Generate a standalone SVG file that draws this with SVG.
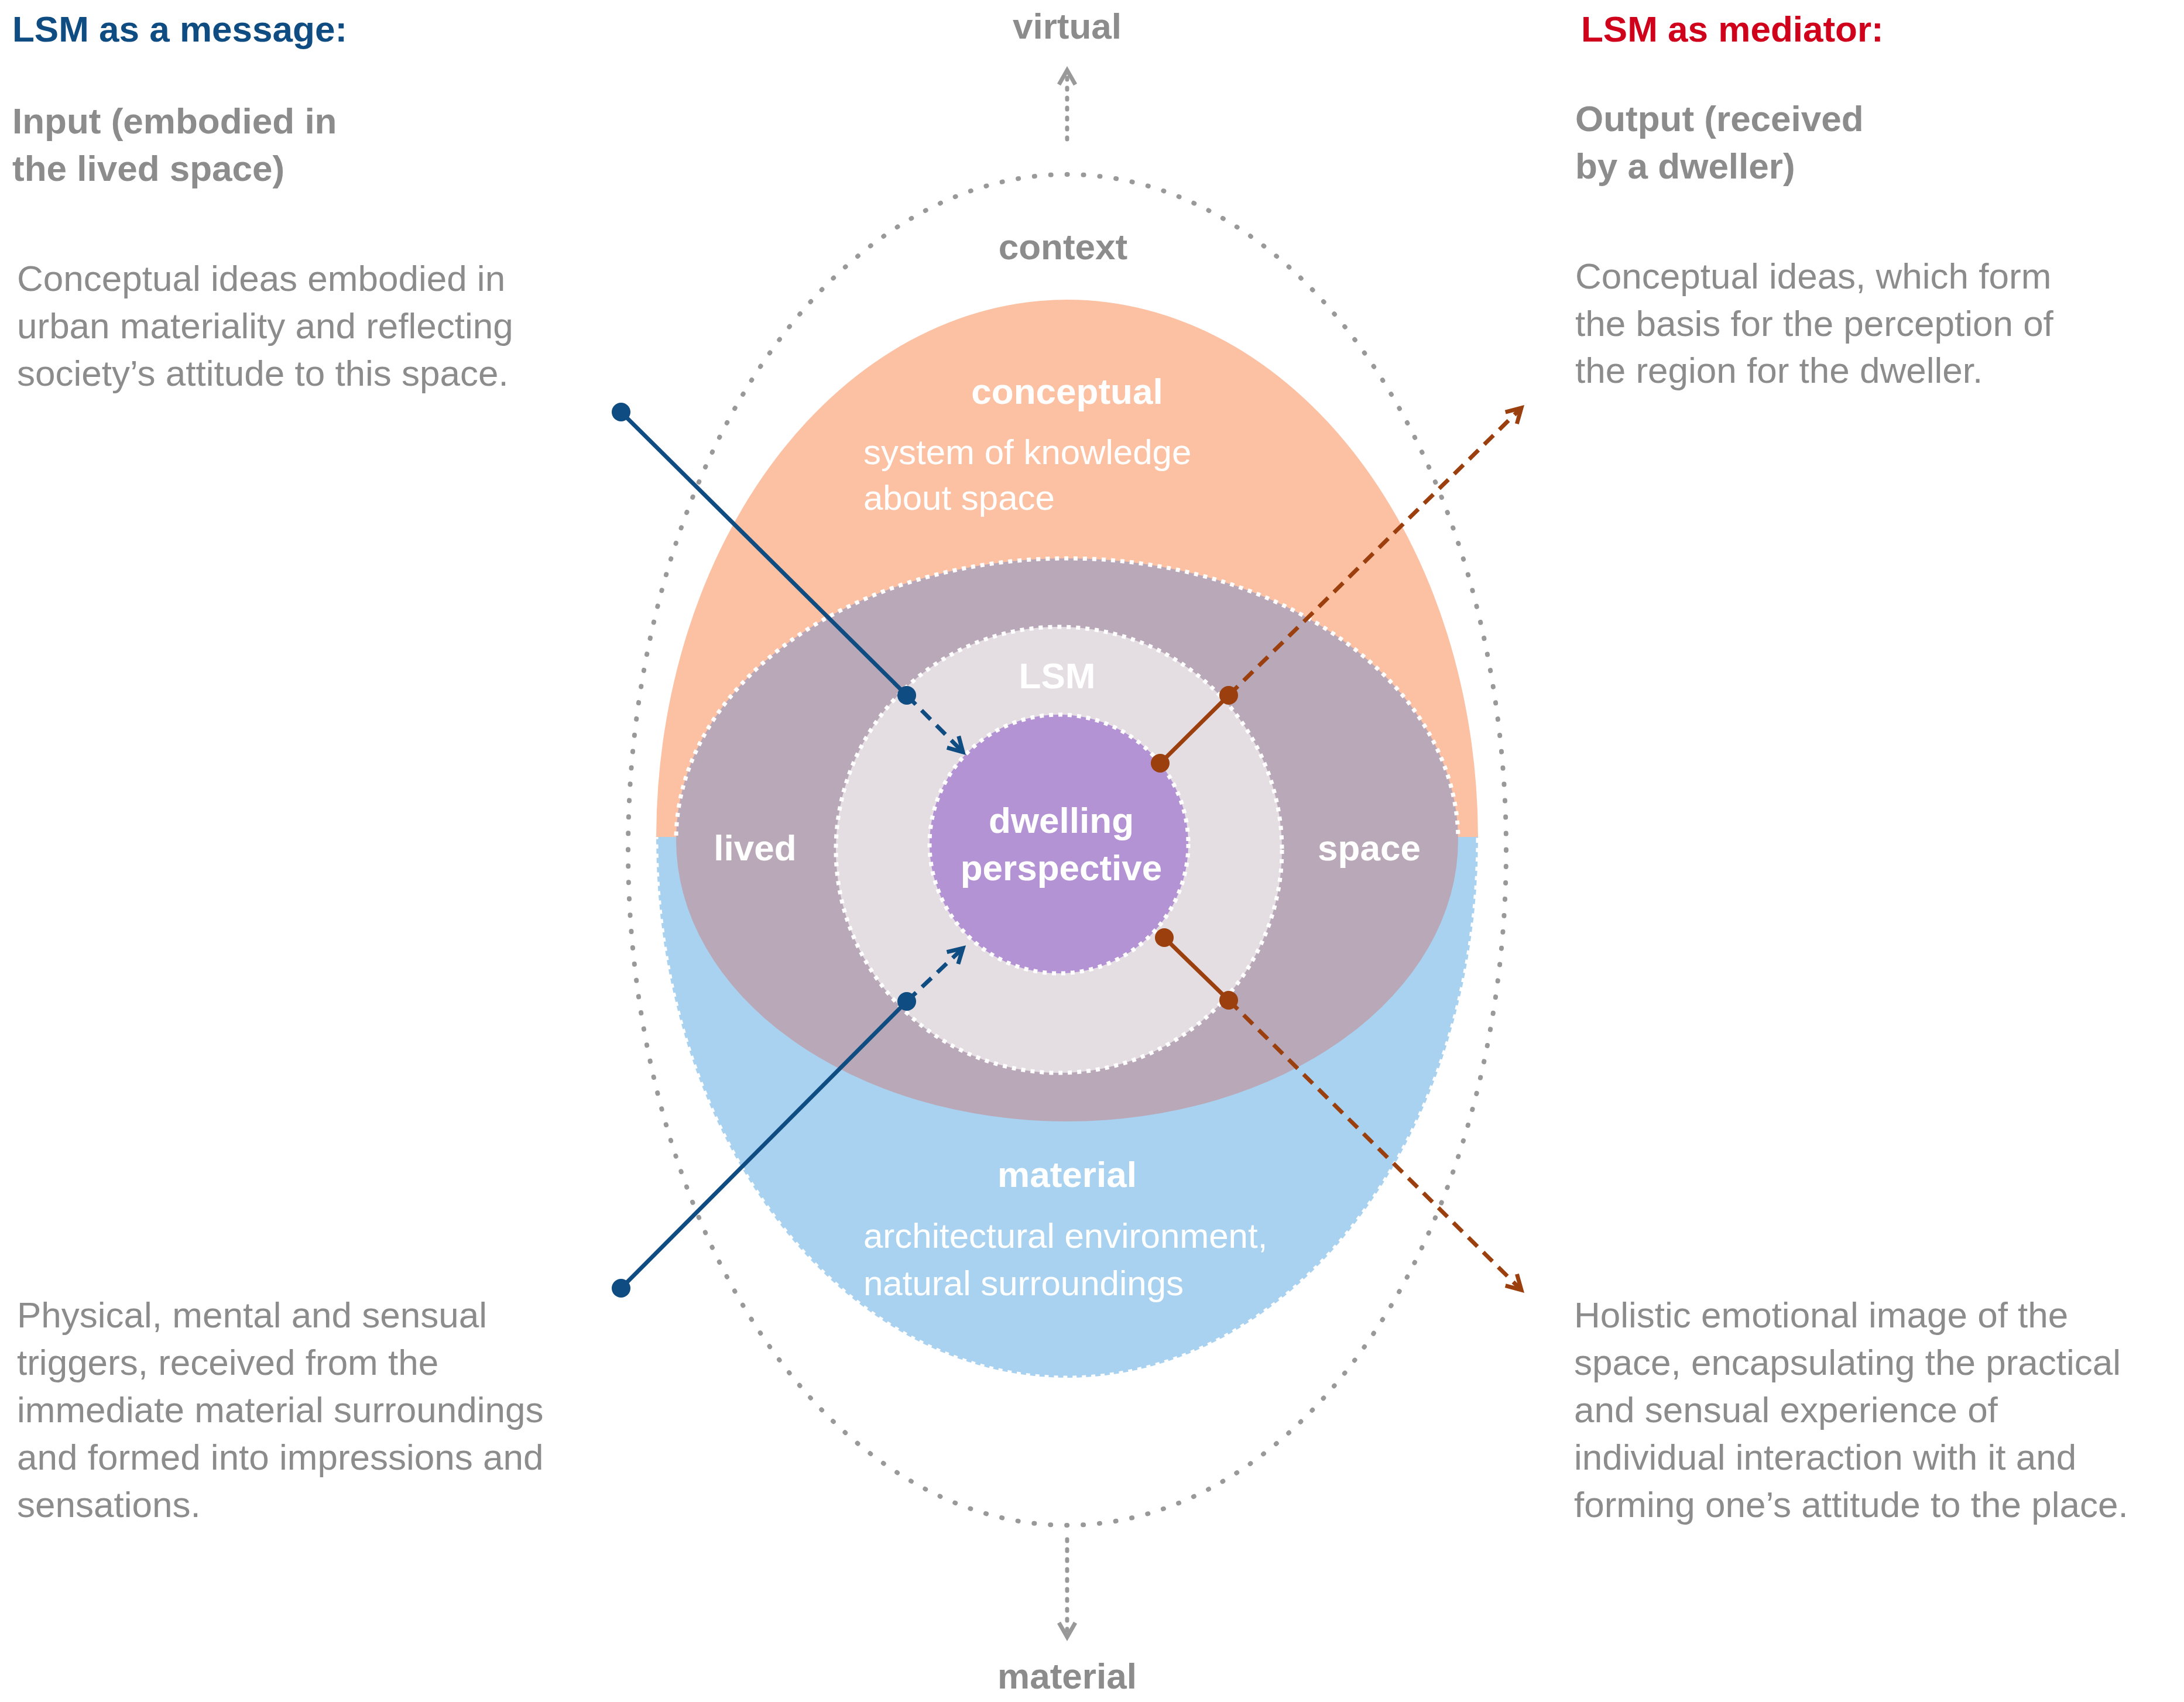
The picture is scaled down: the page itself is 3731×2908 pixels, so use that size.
<svg xmlns="http://www.w3.org/2000/svg" width="3731" height="2908" viewBox="0 0 3731 2908">
<defs>
<style>
text{font-family:"Liberation Sans",Arial,sans-serif}
.h{font-weight:bold;font-size:62px;fill:#8c8c8c}
.p{font-size:62px;fill:#8c8c8c}
.w{font-weight:bold;font-size:62px;fill:#fff}
.wn{font-size:60px;fill:#fff}
.wd{fill:none;stroke:#fff;stroke-width:7;stroke-dasharray:7 9}
.bl{stroke:#0f4c81;stroke-width:7;fill:none}
.br{stroke:#9b3f0e;stroke-width:7;fill:none}
.gax{stroke:#999;stroke-width:7;fill:none;stroke-dasharray:3 14;stroke-linecap:round}
</style>
<marker id="ab" viewBox="0 0 10 10" refX="8" refY="5" markerWidth="5" markerHeight="5" orient="auto"><path d="M1,1 L8,5 L1,9" fill="none" stroke="#0f4c81" stroke-width="2"/></marker>
<marker id="ar" viewBox="0 0 10 10" refX="8" refY="5" markerWidth="5" markerHeight="5" orient="auto"><path d="M1,1 L8,5 L1,9" fill="none" stroke="#9b3f0e" stroke-width="2"/></marker>
<marker id="ag" viewBox="0 0 10 10" refX="8" refY="5" markerWidth="5" markerHeight="5" orient="auto"><path d="M1,1 L8,5 L1,9" fill="none" stroke="#999" stroke-width="2"/></marker>
<clipPath id="top"><rect x="0" y="0" width="3731" height="1430"/></clipPath>
<clipPath id="bot"><rect x="0" y="1430" width="3731" height="1500"/></clipPath>
</defs>
<rect width="3731" height="2908" fill="#fff"/>
<g id="context">
<ellipse cx="1823" cy="1452" rx="750" ry="1154" fill="none" stroke="#999" stroke-width="8" stroke-dasharray="1 27" stroke-linecap="round"/>
<text class="h" x="1816" y="443" text-anchor="middle">context</text>
</g>
<g id="conceptual">
<ellipse cx="1823" cy="1433" rx="702" ry="921" fill="#fcc0a3" clip-path="url(#top)"/>
<text class="w" x="1823" y="690" text-anchor="middle">conceptual</text>
<text class="wn" x="1475" y="793">system of knowledge</text>
<text class="wn" x="1475" y="871">about space</text>
</g>
<g id="material">
<ellipse cx="1823" cy="1433" rx="702" ry="921" fill="#a9d2f1" clip-path="url(#bot)"/>
<ellipse cx="1823" cy="1433" rx="702" ry="921" class="wd" clip-path="url(#bot)" stroke-width="4"/>
<text class="w" x="1823" y="2028" text-anchor="middle">material</text>
<text class="wn" x="1475" y="2132">architectural environment,</text>
<text class="wn" x="1475" y="2213">natural surroundings</text>
</g>
<g id="lived-space">
<ellipse cx="1823" cy="1435" rx="668" ry="481" fill="#b9a9b8"/>
<ellipse cx="1823" cy="1435" rx="668" ry="481" class="wd" clip-path="url(#top)"/>
<text class="w" x="1290" y="1470" text-anchor="middle" font-size="80">lived</text>
<text class="w" x="2339" y="1470" text-anchor="middle" font-size="80">space</text>
</g>
<g id="lsm">
<circle cx="1809" cy="1452" r="381" fill="#e4dee3"/>
<circle cx="1809" cy="1452" r="381" class="wd"/>
<text class="w" x="1806" y="1176" text-anchor="middle" fill="#f6f4f6">LSM</text>
</g>
<g id="dwelling">
<circle cx="1809" cy="1442" r="221" fill="#b393d4"/>
<circle cx="1809" cy="1442" r="221" class="wd"/>
<text class="w" x="1813" y="1423" text-anchor="middle">dwelling</text>
<text class="w" x="1813" y="1504" text-anchor="middle">perspective</text>
</g>
<g id="connectors">
<line class="gax" x1="1823" y1="238" x2="1823" y2="120" marker-end="url(#ag)"/>
<line class="gax" x1="1823" y1="2630" x2="1823" y2="2797" marker-end="url(#ag)"/>
<line class="bl" x1="1061" y1="704" x2="1549" y2="1188"/>
<line class="bl" x1="1549" y1="1188" x2="1645" y2="1285" stroke-dasharray="22 14" marker-end="url(#ab)"/>
<circle cx="1061" cy="704" r="16" fill="#0f4c81"/><circle cx="1549" cy="1188" r="16" fill="#0f4c81"/>
<line class="bl" x1="1061" y1="2201" x2="1549" y2="1711"/>
<line class="bl" x1="1549" y1="1711" x2="1645" y2="1620" stroke-dasharray="22 14" marker-end="url(#ab)"/>
<circle cx="1061" cy="2201" r="16" fill="#0f4c81"/><circle cx="1549" cy="1711" r="16" fill="#0f4c81"/>
<line class="br" x1="1982" y1="1304" x2="2099" y2="1188"/>
<line class="br" x1="2099" y1="1188" x2="2599" y2="697" stroke-dasharray="22 14" marker-end="url(#ar)"/>
<circle cx="1982" cy="1304" r="16" fill="#9b3f0e"/><circle cx="2099" cy="1188" r="16" fill="#9b3f0e"/>
<line class="br" x1="1989" y1="1602" x2="2099" y2="1709"/>
<line class="br" x1="2099" y1="1709" x2="2599" y2="2204" stroke-dasharray="22 14" marker-end="url(#ar)"/>
<circle cx="1989" cy="1602" r="16" fill="#9b3f0e"/><circle cx="2099" cy="1709" r="16" fill="#9b3f0e"/>
</g>
<g id="labels">
<text class="h" x="1823" y="66" text-anchor="middle">virtual</text>
<text class="h" x="1823" y="2885" text-anchor="middle">material</text>
<text class="h" x="21" y="71" fill="#0f4c81" style="fill:#0f4c81">LSM as a message:</text>
<text class="h" x="2701" y="71" style="fill:#d0021b">LSM as mediator:</text>
<text class="h" x="21" y="228">Input (embodied in</text>
<text class="h" x="21" y="309">the lived space)</text>
<text class="h" x="2691" y="224">Output (received</text>
<text class="h" x="2691" y="305">by a dweller)</text>
<text class="p" x="29" y="497">Conceptual ideas embodied in</text>
<text class="p" x="29" y="578">urban materiality and reflecting</text>
<text class="p" x="29" y="659">society’s attitude to this space.</text>
<text class="p" x="2691" y="493">Conceptual ideas, which form</text>
<text class="p" x="2691" y="574">the basis for the perception of</text>
<text class="p" x="2691" y="654">the region for the dweller.</text>
<text class="p" x="29" y="2268">Physical, mental and sensual</text>
<text class="p" x="29" y="2349">triggers, received from the</text>
<text class="p" x="29" y="2430">immediate material surroundings</text>
<text class="p" x="29" y="2511">and formed into impressions and</text>
<text class="p" x="29" y="2592">sensations.</text>
<text class="p" x="2689" y="2268">Holistic emotional image of the</text>
<text class="p" x="2689" y="2349">space, encapsulating the practical</text>
<text class="p" x="2689" y="2430">and sensual experience of</text>
<text class="p" x="2689" y="2511">individual interaction with it and</text>
<text class="p" x="2689" y="2592">forming one’s attitude to the place.</text>
</g>
</svg>
